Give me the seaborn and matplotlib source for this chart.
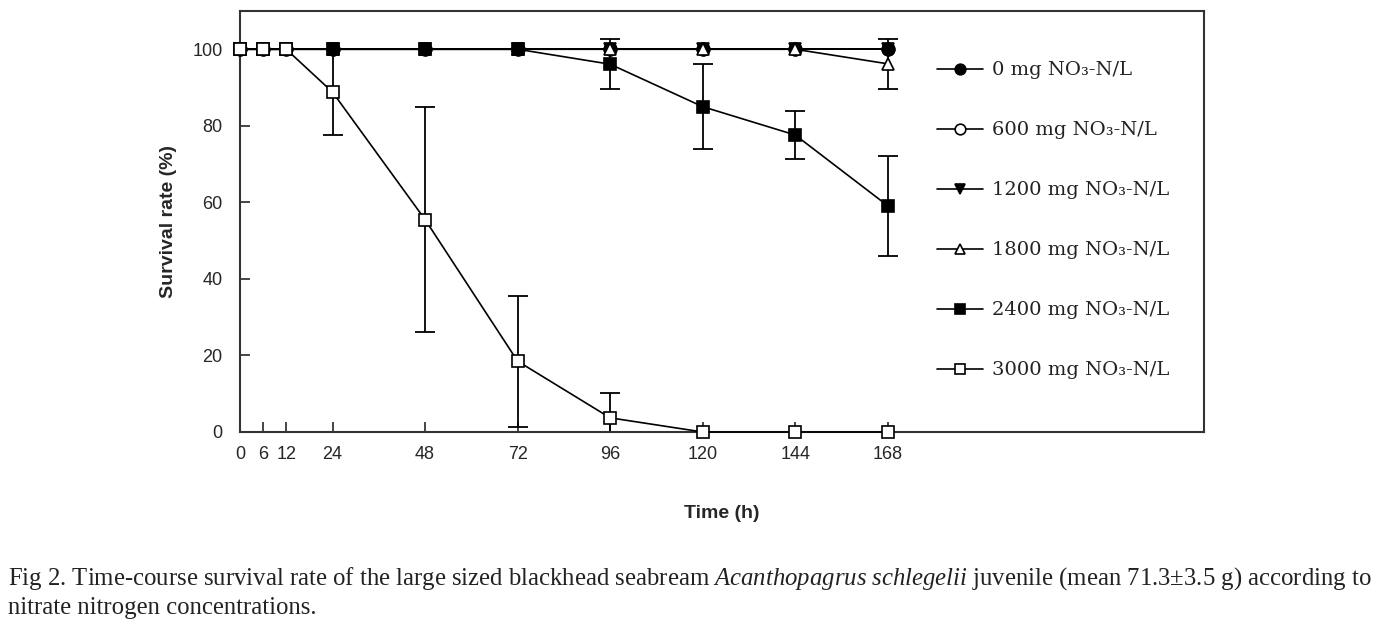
import numpy as np
import matplotlib
matplotlib.use("Agg")
import matplotlib.pyplot as plt
import seaborn as sns
import pandas as pd

# time points (h)
hours = [0, 6, 12, 24, 48, 72, 96, 120, 144, 168]

# survival rate (%) per nitrate concentration
surv_0 = [100, 100, 100, 100, 100, 100, 100, 100, 100, 100]
surv_600 = [100, 100, 100, 100, 100, 100, 100, 100, 100, 100]
surv_1200 = [100, 100, 100, 100, 100, 100, 100, 100, 100, 100]
surv_1800 = [100, 100, 100, 100, 100, 100, 100, 100, 100, 96.2]
surv_2400 = [100, 100, 100, 100, 100, 100, 96.1, 85.0, 77.6, 59.1]
surv_3000 = [100, 100, 100, 88.8, 55.5, 18.5, 3.7, 0, 0, 0]

# standard deviations
sd_0 = [0, 0, 0, 0, 0, 0, 0, 0, 0, 0]
sd_600 = [0, 0, 0, 0, 0, 0, 0, 0, 0, 0]
sd_1200 = [0, 0, 0, 0, 0, 0, 0, 0, 0, 0]
sd_1800 = [0, 0, 0, 0, 0, 0, 0, 0, 0, 6.5]
sd_2400 = [0, 0, 0, 0, 0, 0, 6.5, 11.1, 6.4, 13.0]
sd_3000 = [0, 0, 0, 11.3, 29.3, 17.1, 6.4, 0, 0, 0]

labels = ["0 mg NO\u2083-N/L", "600 mg NO\u2083-N/L", "1200 mg NO\u2083-N/L",
          "1800 mg NO\u2083-N/L", "2400 mg NO\u2083-N/L", "3000 mg NO\u2083-N/L"]
series = [surv_0, surv_600, surv_1200, surv_1800, surv_2400, surv_3000]
sds = [sd_0, sd_600, sd_1200, sd_1800, sd_2400, sd_3000]

marker_shapes = ["o", "o", "v", "^", "s", "s"]
face_colors = ["black", "white", "black", "white", "black", "white"]
# drawing order (filled circle sits on top of the open one, as in the original)
layer = [4, 3, 5, 6, 7, 8]

df = pd.DataFrame([
    {"Time": h, "Survival": v, "sd": s, "group": lab}
    for lab, vals, sdv in zip(labels, series, sds)
    for h, v, s in zip(hours, vals, sdv)
])

sns.set_style("ticks")
plt.rcParams["font.family"] = ["Liberation Sans Narrow", "Liberation Sans", "DejaVu Sans"]
plt.rcParams["mathtext.fontset"] = "custom"
plt.rcParams["mathtext.it"] = "Liberation Serif:italic"
plt.rcParams["mathtext.rm"] = "Liberation Serif"

fig = plt.figure(figsize=(13.83, 6.28), dpi=100)
ax = fig.add_axes([240 / 1383, 1 - 432 / 628, 964 / 1383, 421 / 628])

for i, lab in enumerate(labels):
    sub = df[df["group"] == lab]
    sns.lineplot(data=sub, x="Time", y="Survival", ax=ax, color="black",
                 linewidth=1.2, marker=marker_shapes[i], markersize=9,
                 markerfacecolor=face_colors[i], markeredgecolor="black",
                 markeredgewidth=1.2, label=lab, zorder=layer[i], clip_on=False)
    err = sub[sub["sd"] > 0]
    if len(err):
        ax.errorbar(err["Time"], err["Survival"], yerr=err["sd"], fmt="none",
                    ecolor="black", elinewidth=1.3, capsize=7, capthick=1.3,
                    zorder=2)

ax.set_xlim(0, 250)
ax.set_ylim(0, 110)
ax.set_xticks(hours)
ax.set_yticks([0, 20, 40, 60, 80, 100])
ax.tick_params(direction="in", length=7, width=1.2, labelsize=13, pad=10)
ax.tick_params(axis="y", pad=12.5)
for sp in ax.spines.values():
    sp.set_linewidth(1.5)
    sp.set_color("#333333")

ax.set_xlabel("Time (h)", fontsize=14, fontweight="bold",
              family=["Liberation Sans", "DejaVu Sans"], labelpad=30)
ax.set_ylabel("Survival rate (%)", fontsize=14, fontweight="bold",
              family=["Liberation Sans", "DejaVu Sans"], labelpad=11)

leg = ax.legend(loc="upper left", bbox_to_anchor=(0.705, 0.922), frameon=False,
                handlelength=2.35, handletextpad=0.45, labelspacing=2.16,
                markerscale=0.85,
                prop={"family": ["DejaVu Serif"], "size": 14})
for t in leg.get_texts():
    t.set_color("#222222")

caption = ("Fig 2. Time-course survival rate of the large sized blackhead seabream "
           "$\\it{Acanthopagrus\\ schlegelii}$ juvenile (mean 71.3\u00b13.5 g) according to\n"
           "nitrate nitrogen concentrations.")
fig.text(8 / 1383, 1 - 565 / 628, caption, ha="left", va="top", fontsize=17.8,
         family=["Liberation Serif", "DejaVu Serif"], linespacing=1.3,
         color="#222222")

fig.savefig("out.png", dpi=100)
